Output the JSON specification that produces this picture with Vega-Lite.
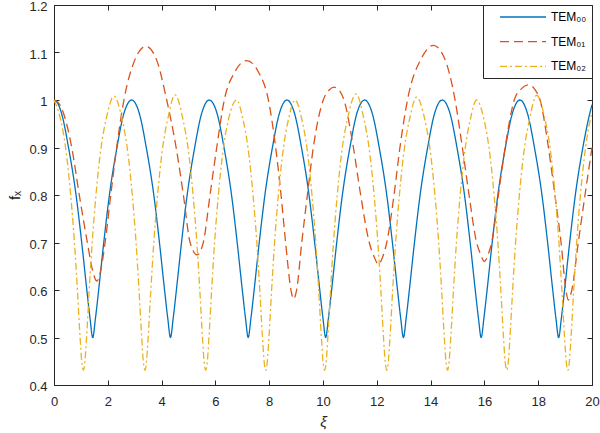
{
"$schema": "https://vega.github.io/schema/vega-lite/v6.json",
"width": 538, "height": 380,
"autosize": {"type": "none"},
"padding": {"left": 54, "top": 5, "right": 8, "bottom": 48},
"background": "white",
"config": {
 "view": {"stroke": null},
 "font": "Liberation Sans",
 "axis": {"grid": false, "domainColor": "#262626", "tickColor": "#262626", "labelColor": "#262626", "titleColor": "#262626", "labelFontSize": 13, "titleFontWeight": "normal", "tickSize": -5, "domainWidth": 1, "tickWidth": 1, "labelFlush": false, "labelOverlap": false}
},
"datasets": {
 "d": [
 {"s":"TEM₀₀","x":0,"y":1},{"s":"TEM₀₀","x":0.15,"y":0.992},{"s":"TEM₀₀","x":0.29,"y":0.97},{"s":"TEM₀₀","x":0.54,"y":0.9},{"s":"TEM₀₀","x":0.82,"y":0.8},{"s":"TEM₀₀","x":1.03,"y":0.7},{"s":"TEM₀₀","x":1.22,"y":0.6},{"s":"TEM₀₀","x":1.34,"y":0.54},{"s":"TEM₀₀","x":1.44,"y":0.5},{"s":"TEM₀₀","x":1.54,"y":0.54},{"s":"TEM₀₀","x":1.66,"y":0.6},{"s":"TEM₀₀","x":1.85,"y":0.7},{"s":"TEM₀₀","x":2.06,"y":0.8},{"s":"TEM₀₀","x":2.34,"y":0.9},{"s":"TEM₀₀","x":2.59,"y":0.97},{"s":"TEM₀₀","x":2.89,"y":1},
 {"s":"TEM₀₀","x":3.18,"y":0.97},{"s":"TEM₀₀","x":3.43,"y":0.9},{"s":"TEM₀₀","x":3.71,"y":0.8},{"s":"TEM₀₀","x":3.92,"y":0.7},{"s":"TEM₀₀","x":4.11,"y":0.6},{"s":"TEM₀₀","x":4.23,"y":0.54},{"s":"TEM₀₀","x":4.33,"y":0.5},{"s":"TEM₀₀","x":4.43,"y":0.54},{"s":"TEM₀₀","x":4.55,"y":0.6},{"s":"TEM₀₀","x":4.74,"y":0.7},{"s":"TEM₀₀","x":4.95,"y":0.8},{"s":"TEM₀₀","x":5.23,"y":0.9},{"s":"TEM₀₀","x":5.48,"y":0.97},{"s":"TEM₀₀","x":5.77,"y":1},
 {"s":"TEM₀₀","x":6.07,"y":0.97},{"s":"TEM₀₀","x":6.32,"y":0.9},{"s":"TEM₀₀","x":6.6,"y":0.8},{"s":"TEM₀₀","x":6.81,"y":0.7},{"s":"TEM₀₀","x":7.0,"y":0.6},{"s":"TEM₀₀","x":7.12,"y":0.54},{"s":"TEM₀₀","x":7.22,"y":0.5},{"s":"TEM₀₀","x":7.32,"y":0.54},{"s":"TEM₀₀","x":7.44,"y":0.6},{"s":"TEM₀₀","x":7.63,"y":0.7},{"s":"TEM₀₀","x":7.84,"y":0.8},{"s":"TEM₀₀","x":8.12,"y":0.9},{"s":"TEM₀₀","x":8.37,"y":0.97},{"s":"TEM₀₀","x":8.66,"y":1},
 {"s":"TEM₀₀","x":8.95,"y":0.97},{"s":"TEM₀₀","x":9.2,"y":0.9},{"s":"TEM₀₀","x":9.48,"y":0.8},{"s":"TEM₀₀","x":9.69,"y":0.7},{"s":"TEM₀₀","x":9.88,"y":0.6},{"s":"TEM₀₀","x":10.0,"y":0.54},{"s":"TEM₀₀","x":10.1,"y":0.5},{"s":"TEM₀₀","x":10.2,"y":0.54},{"s":"TEM₀₀","x":10.32,"y":0.6},{"s":"TEM₀₀","x":10.51,"y":0.7},{"s":"TEM₀₀","x":10.72,"y":0.8},{"s":"TEM₀₀","x":11.0,"y":0.9},{"s":"TEM₀₀","x":11.25,"y":0.97},{"s":"TEM₀₀","x":11.55,"y":1},
 {"s":"TEM₀₀","x":11.84,"y":0.97},{"s":"TEM₀₀","x":12.09,"y":0.9},{"s":"TEM₀₀","x":12.37,"y":0.8},{"s":"TEM₀₀","x":12.58,"y":0.7},{"s":"TEM₀₀","x":12.77,"y":0.6},{"s":"TEM₀₀","x":12.89,"y":0.54},{"s":"TEM₀₀","x":12.99,"y":0.5},{"s":"TEM₀₀","x":13.09,"y":0.54},{"s":"TEM₀₀","x":13.21,"y":0.6},{"s":"TEM₀₀","x":13.4,"y":0.7},{"s":"TEM₀₀","x":13.61,"y":0.8},{"s":"TEM₀₀","x":13.89,"y":0.9},{"s":"TEM₀₀","x":14.14,"y":0.97},{"s":"TEM₀₀","x":14.43,"y":1},
 {"s":"TEM₀₀","x":14.73,"y":0.97},{"s":"TEM₀₀","x":14.98,"y":0.9},{"s":"TEM₀₀","x":15.26,"y":0.8},{"s":"TEM₀₀","x":15.47,"y":0.7},{"s":"TEM₀₀","x":15.66,"y":0.6},{"s":"TEM₀₀","x":15.78,"y":0.54},{"s":"TEM₀₀","x":15.88,"y":0.5},{"s":"TEM₀₀","x":15.98,"y":0.54},{"s":"TEM₀₀","x":16.1,"y":0.6},{"s":"TEM₀₀","x":16.29,"y":0.7},{"s":"TEM₀₀","x":16.5,"y":0.8},{"s":"TEM₀₀","x":16.78,"y":0.9},{"s":"TEM₀₀","x":17.03,"y":0.97},{"s":"TEM₀₀","x":17.32,"y":1},
 {"s":"TEM₀₀","x":17.61,"y":0.97},{"s":"TEM₀₀","x":17.86,"y":0.9},{"s":"TEM₀₀","x":18.14,"y":0.8},{"s":"TEM₀₀","x":18.35,"y":0.7},{"s":"TEM₀₀","x":18.54,"y":0.6},{"s":"TEM₀₀","x":18.66,"y":0.54},{"s":"TEM₀₀","x":18.76,"y":0.5},{"s":"TEM₀₀","x":18.86,"y":0.54},{"s":"TEM₀₀","x":18.98,"y":0.6},{"s":"TEM₀₀","x":19.17,"y":0.7},{"s":"TEM₀₀","x":19.38,"y":0.8},{"s":"TEM₀₀","x":19.66,"y":0.9},{"s":"TEM₀₀","x":19.91,"y":0.97},{"s":"TEM₀₀","x":20,"y":0.99},

 {"s":"TEM₀₁","x":0,"y":1},{"s":"TEM₀₁","x":0.15,"y":0.995},{"s":"TEM₀₁","x":0.3,"y":0.98},{"s":"TEM₀₁","x":0.66,"y":0.9},{"s":"TEM₀₁","x":0.94,"y":0.8},{"s":"TEM₀₁","x":1.24,"y":0.7},{"s":"TEM₀₁","x":1.42,"y":0.645},{"s":"TEM₀₁","x":1.59,"y":0.619},{"s":"TEM₀₁","x":1.75,"y":0.645},{"s":"TEM₀₁","x":1.9,"y":0.7},{"s":"TEM₀₁","x":2.11,"y":0.8},{"s":"TEM₀₁","x":2.33,"y":0.9},{"s":"TEM₀₁","x":2.6,"y":1},{"s":"TEM₀₁","x":3.01,"y":1.085},{"s":"TEM₀₁","x":3.41,"y":1.113},{"s":"TEM₀₁","x":3.81,"y":1.085},{"s":"TEM₀₁","x":4.19,"y":1},{"s":"TEM₀₁","x":4.54,"y":0.9},{"s":"TEM₀₁","x":4.81,"y":0.8},{"s":"TEM₀₁","x":5.06,"y":0.7},{"s":"TEM₀₁","x":5.32,"y":0.674},{"s":"TEM₀₁","x":5.55,"y":0.7},{"s":"TEM₀₁","x":5.8,"y":0.8},{"s":"TEM₀₁","x":6.05,"y":0.9},{"s":"TEM₀₁","x":6.33,"y":1},{"s":"TEM₀₁","x":6.71,"y":1.058},{"s":"TEM₀₁","x":7.16,"y":1.083},{"s":"TEM₀₁","x":7.61,"y":1.058},{"s":"TEM₀₁","x":7.97,"y":1},{"s":"TEM₀₁","x":8.24,"y":0.9},{"s":"TEM₀₁","x":8.44,"y":0.8},{"s":"TEM₀₁","x":8.61,"y":0.7},{"s":"TEM₀₁","x":8.81,"y":0.6},{"s":"TEM₀₁","x":8.9,"y":0.581},{"s":"TEM₀₁","x":9.02,"y":0.6},{"s":"TEM₀₁","x":9.21,"y":0.7},{"s":"TEM₀₁","x":9.42,"y":0.8},{"s":"TEM₀₁","x":9.64,"y":0.9},{"s":"TEM₀₁","x":10.01,"y":1},{"s":"TEM₀₁","x":10.21,"y":1.02},{"s":"TEM₀₁","x":10.41,"y":1.027},{"s":"TEM₀₁","x":10.61,"y":1.02},{"s":"TEM₀₁","x":10.78,"y":1},{"s":"TEM₀₁","x":11.13,"y":0.9},{"s":"TEM₀₁","x":11.4,"y":0.8},{"s":"TEM₀₁","x":11.72,"y":0.7},{"s":"TEM₀₁","x":11.9,"y":0.67},{"s":"TEM₀₁","x":12.06,"y":0.654},{"s":"TEM₀₁","x":12.22,"y":0.67},{"s":"TEM₀₁","x":12.37,"y":0.7},{"s":"TEM₀₁","x":12.64,"y":0.8},{"s":"TEM₀₁","x":12.86,"y":0.9},{"s":"TEM₀₁","x":13.14,"y":1},{"s":"TEM₀₁","x":13.67,"y":1.089},{"s":"TEM₀₁","x":14.1,"y":1.115},{"s":"TEM₀₁","x":14.5,"y":1.09},{"s":"TEM₀₁","x":14.91,"y":1},{"s":"TEM₀₁","x":15.18,"y":0.9},{"s":"TEM₀₁","x":15.43,"y":0.8},{"s":"TEM₀₁","x":15.71,"y":0.7},{"s":"TEM₀₁","x":15.86,"y":0.675},{"s":"TEM₀₁","x":16.0,"y":0.66},{"s":"TEM₀₁","x":16.14,"y":0.675},{"s":"TEM₀₁","x":16.27,"y":0.7},{"s":"TEM₀₁","x":16.52,"y":0.8},{"s":"TEM₀₁","x":16.77,"y":0.9},{"s":"TEM₀₁","x":17.11,"y":1},{"s":"TEM₀₁","x":17.38,"y":1.024},{"s":"TEM₀₁","x":17.66,"y":1.032},{"s":"TEM₀₁","x":17.88,"y":1.022},{"s":"TEM₀₁","x":18.07,"y":1},{"s":"TEM₀₁","x":18.38,"y":0.9},{"s":"TEM₀₁","x":18.62,"y":0.8},{"s":"TEM₀₁","x":18.85,"y":0.7},{"s":"TEM₀₁","x":19.03,"y":0.6},{"s":"TEM₀₁","x":19.12,"y":0.579},{"s":"TEM₀₁","x":19.25,"y":0.6},{"s":"TEM₀₁","x":19.49,"y":0.7},{"s":"TEM₀₁","x":19.74,"y":0.8},{"s":"TEM₀₁","x":20,"y":0.9},

 {"s":"TEM₀₂","x":0,"y":1},{"s":"TEM₀₂","x":0.24,"y":0.96},{"s":"TEM₀₂","x":0.43,"y":0.9},{"s":"TEM₀₂","x":0.62,"y":0.8},{"s":"TEM₀₂","x":0.76,"y":0.7},{"s":"TEM₀₂","x":0.87,"y":0.6},{"s":"TEM₀₂","x":0.97,"y":0.5},{"s":"TEM₀₂","x":1.03,"y":0.45},{"s":"TEM₀₂","x":1.09,"y":0.431},{"s":"TEM₀₂","x":1.15,"y":0.45},{"s":"TEM₀₂","x":1.21,"y":0.5},{"s":"TEM₀₂","x":1.31,"y":0.6},{"s":"TEM₀₂","x":1.42,"y":0.7},{"s":"TEM₀₂","x":1.56,"y":0.8},{"s":"TEM₀₂","x":1.75,"y":0.9},{"s":"TEM₀₂","x":1.94,"y":0.96},{"s":"TEM₀₂","x":2.23,"y":1.008},
 {"s":"TEM₀₂","x":2.53,"y":0.96},{"s":"TEM₀₂","x":2.72,"y":0.9},{"s":"TEM₀₂","x":2.91,"y":0.8},{"s":"TEM₀₂","x":3.05,"y":0.7},{"s":"TEM₀₂","x":3.16,"y":0.6},{"s":"TEM₀₂","x":3.26,"y":0.5},{"s":"TEM₀₂","x":3.32,"y":0.45},{"s":"TEM₀₂","x":3.38,"y":0.431},{"s":"TEM₀₂","x":3.44,"y":0.45},{"s":"TEM₀₂","x":3.5,"y":0.5},{"s":"TEM₀₂","x":3.6,"y":0.6},{"s":"TEM₀₂","x":3.71,"y":0.7},{"s":"TEM₀₂","x":3.85,"y":0.8},{"s":"TEM₀₂","x":4.04,"y":0.9},{"s":"TEM₀₂","x":4.23,"y":0.96},{"s":"TEM₀₂","x":4.5,"y":1.011},
 {"s":"TEM₀₂","x":4.79,"y":0.96},{"s":"TEM₀₂","x":4.98,"y":0.9},{"s":"TEM₀₂","x":5.17,"y":0.8},{"s":"TEM₀₂","x":5.31,"y":0.7},{"s":"TEM₀₂","x":5.42,"y":0.6},{"s":"TEM₀₂","x":5.52,"y":0.5},{"s":"TEM₀₂","x":5.58,"y":0.45},{"s":"TEM₀₂","x":5.64,"y":0.431},{"s":"TEM₀₂","x":5.7,"y":0.45},{"s":"TEM₀₂","x":5.76,"y":0.5},{"s":"TEM₀₂","x":5.86,"y":0.6},{"s":"TEM₀₂","x":5.97,"y":0.7},{"s":"TEM₀₂","x":6.11,"y":0.8},{"s":"TEM₀₂","x":6.3,"y":0.9},{"s":"TEM₀₂","x":6.49,"y":0.96},{"s":"TEM₀₂","x":6.79,"y":1.0},
 {"s":"TEM₀₂","x":7.02,"y":0.96},{"s":"TEM₀₂","x":7.21,"y":0.9},{"s":"TEM₀₂","x":7.4,"y":0.8},{"s":"TEM₀₂","x":7.54,"y":0.7},{"s":"TEM₀₂","x":7.65,"y":0.6},{"s":"TEM₀₂","x":7.75,"y":0.5},{"s":"TEM₀₂","x":7.81,"y":0.45},{"s":"TEM₀₂","x":7.87,"y":0.431},{"s":"TEM₀₂","x":7.93,"y":0.45},{"s":"TEM₀₂","x":7.99,"y":0.5},{"s":"TEM₀₂","x":8.09,"y":0.6},{"s":"TEM₀₂","x":8.2,"y":0.7},{"s":"TEM₀₂","x":8.34,"y":0.8},{"s":"TEM₀₂","x":8.53,"y":0.9},{"s":"TEM₀₂","x":8.72,"y":0.96},{"s":"TEM₀₂","x":8.96,"y":1.0},
 {"s":"TEM₀₂","x":9.21,"y":0.96},{"s":"TEM₀₂","x":9.4,"y":0.9},{"s":"TEM₀₂","x":9.59,"y":0.8},{"s":"TEM₀₂","x":9.73,"y":0.7},{"s":"TEM₀₂","x":9.84,"y":0.6},{"s":"TEM₀₂","x":9.94,"y":0.5},{"s":"TEM₀₂","x":10.0,"y":0.45},{"s":"TEM₀₂","x":10.06,"y":0.431},{"s":"TEM₀₂","x":10.12,"y":0.45},{"s":"TEM₀₂","x":10.18,"y":0.5},{"s":"TEM₀₂","x":10.28,"y":0.6},{"s":"TEM₀₂","x":10.39,"y":0.7},{"s":"TEM₀₂","x":10.53,"y":0.8},{"s":"TEM₀₂","x":10.72,"y":0.9},{"s":"TEM₀₂","x":10.91,"y":0.96},{"s":"TEM₀₂","x":11.23,"y":1.013},
 {"s":"TEM₀₂","x":11.52,"y":0.96},{"s":"TEM₀₂","x":11.71,"y":0.9},{"s":"TEM₀₂","x":11.9,"y":0.8},{"s":"TEM₀₂","x":12.04,"y":0.7},{"s":"TEM₀₂","x":12.15,"y":0.6},{"s":"TEM₀₂","x":12.25,"y":0.5},{"s":"TEM₀₂","x":12.31,"y":0.45},{"s":"TEM₀₂","x":12.37,"y":0.431},{"s":"TEM₀₂","x":12.43,"y":0.45},{"s":"TEM₀₂","x":12.49,"y":0.5},{"s":"TEM₀₂","x":12.59,"y":0.6},{"s":"TEM₀₂","x":12.7,"y":0.7},{"s":"TEM₀₂","x":12.84,"y":0.8},{"s":"TEM₀₂","x":13.03,"y":0.9},{"s":"TEM₀₂","x":13.22,"y":0.96},{"s":"TEM₀₂","x":13.48,"y":1.006},
 {"s":"TEM₀₂","x":13.78,"y":0.96},{"s":"TEM₀₂","x":13.97,"y":0.9},{"s":"TEM₀₂","x":14.16,"y":0.8},{"s":"TEM₀₂","x":14.3,"y":0.7},{"s":"TEM₀₂","x":14.41,"y":0.6},{"s":"TEM₀₂","x":14.51,"y":0.5},{"s":"TEM₀₂","x":14.57,"y":0.45},{"s":"TEM₀₂","x":14.63,"y":0.431},{"s":"TEM₀₂","x":14.69,"y":0.45},{"s":"TEM₀₂","x":14.75,"y":0.5},{"s":"TEM₀₂","x":14.85,"y":0.6},{"s":"TEM₀₂","x":14.96,"y":0.7},{"s":"TEM₀₂","x":15.1,"y":0.8},{"s":"TEM₀₂","x":15.29,"y":0.9},{"s":"TEM₀₂","x":15.48,"y":0.96},{"s":"TEM₀₂","x":15.71,"y":1.0},
 {"s":"TEM₀₂","x":15.98,"y":0.96},{"s":"TEM₀₂","x":16.17,"y":0.9},{"s":"TEM₀₂","x":16.36,"y":0.8},{"s":"TEM₀₂","x":16.5,"y":0.7},{"s":"TEM₀₂","x":16.61,"y":0.6},{"s":"TEM₀₂","x":16.71,"y":0.5},{"s":"TEM₀₂","x":16.77,"y":0.45},{"s":"TEM₀₂","x":16.83,"y":0.431},{"s":"TEM₀₂","x":16.89,"y":0.45},{"s":"TEM₀₂","x":16.95,"y":0.5},{"s":"TEM₀₂","x":17.05,"y":0.6},{"s":"TEM₀₂","x":17.16,"y":0.7},{"s":"TEM₀₂","x":17.3,"y":0.8},{"s":"TEM₀₂","x":17.49,"y":0.9},{"s":"TEM₀₂","x":17.68,"y":0.96},{"s":"TEM₀₂","x":17.94,"y":1.01},
 {"s":"TEM₀₂","x":18.25,"y":0.96},{"s":"TEM₀₂","x":18.44,"y":0.9},{"s":"TEM₀₂","x":18.63,"y":0.8},{"s":"TEM₀₂","x":18.77,"y":0.7},{"s":"TEM₀₂","x":18.88,"y":0.6},{"s":"TEM₀₂","x":18.98,"y":0.5},{"s":"TEM₀₂","x":19.04,"y":0.45},{"s":"TEM₀₂","x":19.1,"y":0.431},{"s":"TEM₀₂","x":19.16,"y":0.45},{"s":"TEM₀₂","x":19.22,"y":0.5},{"s":"TEM₀₂","x":19.32,"y":0.6},{"s":"TEM₀₂","x":19.43,"y":0.7},{"s":"TEM₀₂","x":19.57,"y":0.8},{"s":"TEM₀₂","x":19.76,"y":0.9},{"s":"TEM₀₂","x":20,"y":0.975}
 ]
},
"data": {"name": "d"},
"layer": [
 {
  "mark": {"type": "line", "interpolate": "monotone", "strokeWidth": 1.3},
  "encoding": {
   "x": {"field": "x", "type": "quantitative", "scale": {"domain": [0, 20], "nice": false, "zero": false},
         "axis": {"values": [0,2,4,6,8,10,12,14,16,18,20], "title": "ξ", "labelPadding": 15, "titleFontSize": 15, "titleFontStyle": "italic", "titlePadding": 6}},
   "y": {"field": "y", "type": "quantitative", "scale": {"domain": [0.4, 1.2], "nice": false, "zero": false},
         "axis": {"values": [0.4,0.5,0.6,0.7,0.8,0.9,1,1.1,1.2], "format": "~g", "title": "fₓ", "labelPadding": 12, "labelOffset": 1.6, "titleFontSize": 15, "titlePadding": 6}},
   "color": {"field": "s", "type": "nominal",
     "scale": {"domain": ["TEM₀₀","TEM₀₁","TEM₀₂"], "range": ["#0072BD","#D95319","#EDB120"]},
     "legend": {"title": null, "orient": "top-right", "offset": 0, "strokeColor": "#262626", "fillColor": "white", "padding": 5, "symbolType": "M-0.667,0M0.833,0H8.5", "symbolSize": 144, "symbolStrokeWidth": 1.3, "labelFontSize": 12, "labelColor": "#000000", "rowPadding": 11.7, "labelOffset": 49, "cornerRadius": 0}},
   "strokeDash": {"field": "s", "type": "nominal",
     "scale": {"domain": ["TEM₀₀","TEM₀₁","TEM₀₂"], "range": [[1,0],[9,5],[7,3,2,3]]},
     "legend": {"title": null, "orient": "top-right", "offset": 0, "strokeColor": "#262626", "fillColor": "white", "padding": 5, "symbolType": "M-0.667,0M0.833,0H8.5", "symbolSize": 144, "symbolStrokeWidth": 1.3, "labelFontSize": 12, "labelColor": "#000000", "rowPadding": 11.7, "labelOffset": 49, "cornerRadius": 0}}
  }
 },
 {
  "mark": {"type": "line", "opacity": 0},
  "encoding": {
   "x": {"field": "x", "type": "quantitative", "scale": {"domain": [0, 20], "nice": false, "zero": false},
         "axis": {"orient": "top", "values": [0,2,4,6,8,10,12,14,16,18,20], "labels": false, "title": null}},
   "y": {"field": "y", "type": "quantitative", "scale": {"domain": [0.4, 1.2], "nice": false, "zero": false},
         "axis": {"orient": "right", "values": [0.4,0.5,0.6,0.7,0.8,0.9,1,1.1,1.2], "labels": false, "title": null}},
   "detail": {"field": "s", "type": "nominal"}
  }
 }
],
"resolve": {"axis": {"x": "independent", "y": "independent"}}
}
